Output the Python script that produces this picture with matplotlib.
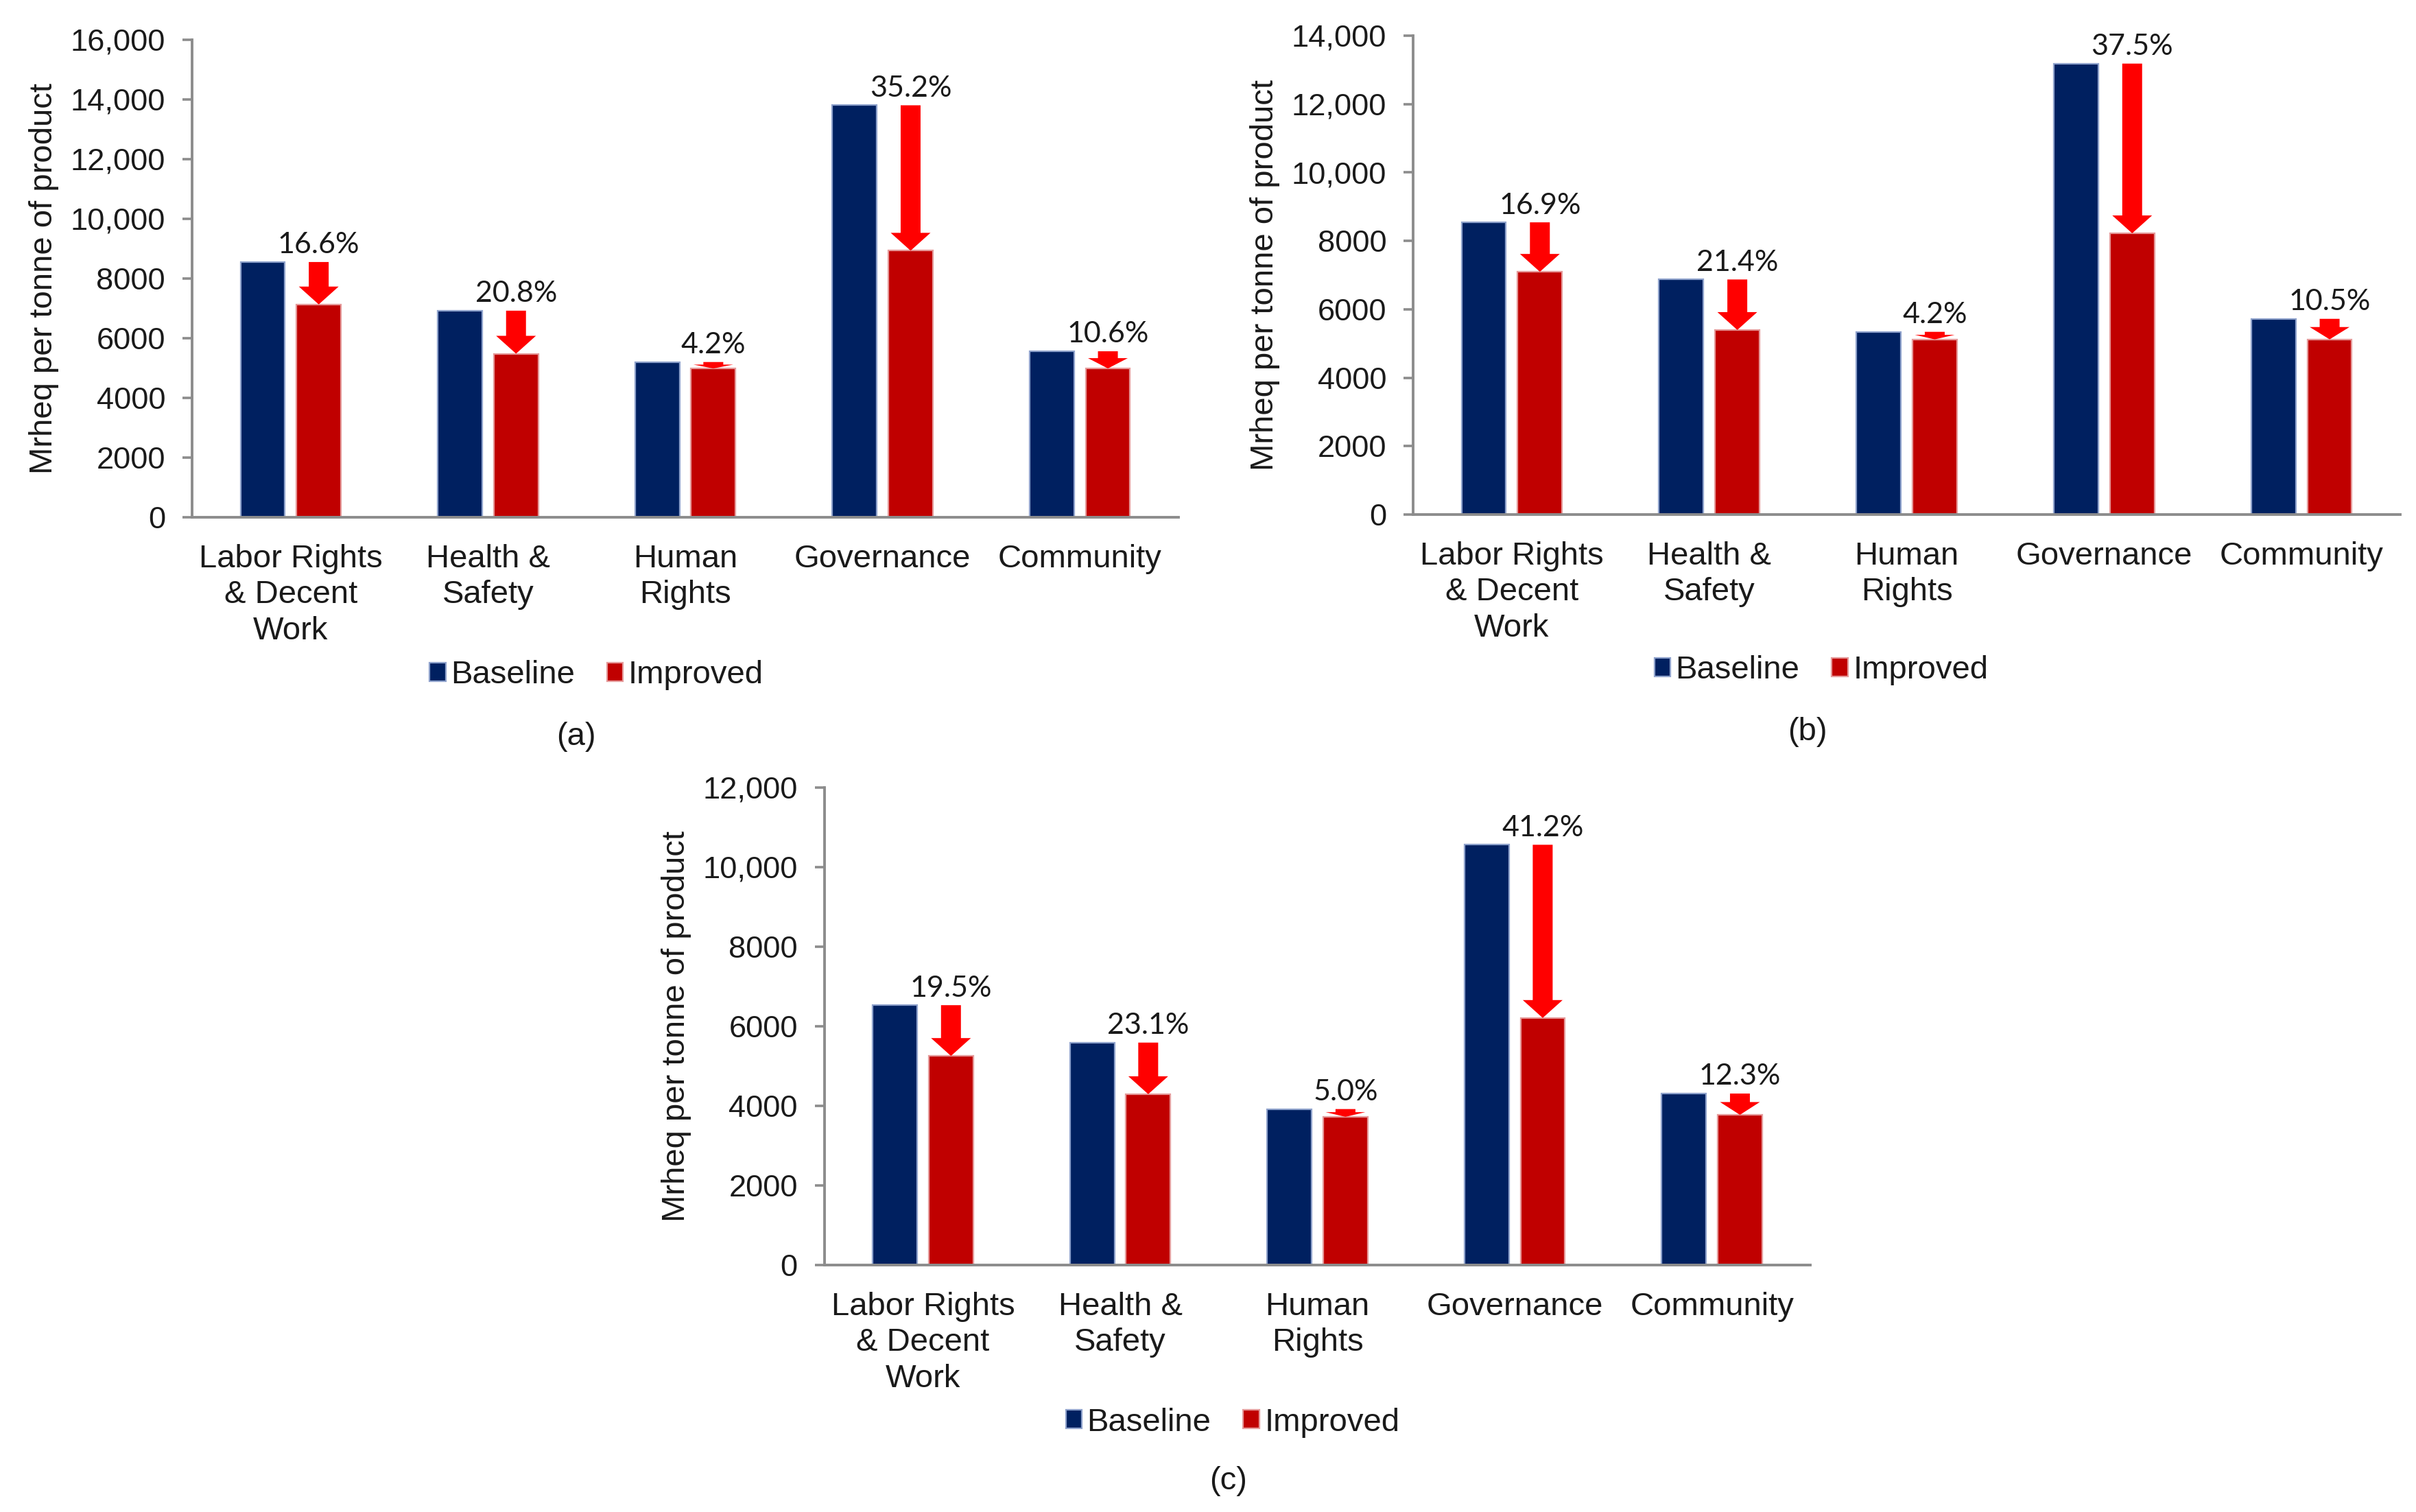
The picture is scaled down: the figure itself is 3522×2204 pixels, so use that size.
import matplotlib
matplotlib.use("Agg")
import matplotlib.pyplot as plt
from matplotlib.patches import FancyArrow, Patch
import numpy as np

# ---------------- data ----------------
categories = ["Labor Rights\n& Decent\nWork", "Health &\nSafety", "Human\nRights",
              "Governance", "Community"]
series_names = ["Baseline", "Improved"]

baseline_a = [8550, 6920, 5200, 13800, 5560]
improved_a = [7130, 5480, 4985, 8930, 4985]
reduction_a = ["16.6%", "20.8%", "4.2%", "35.2%", "10.6%"]
yticks_a = [0, 2000, 4000, 6000, 8000, 10000, 12000, 14000, 16000]
yticklabels_a = ["0", "2000", "4000", "6000", "8000", "10,000", "12,000", "14,000", "16,000"]

baseline_b = [8540, 6870, 5340, 13180, 5720]
improved_b = [7095, 5395, 5120, 8220, 5120]
reduction_b = ["16.9%", "21.4%", "4.2%", "37.5%", "10.5%"]
yticks_b = [0, 2000, 4000, 6000, 8000, 10000, 12000, 14000]
yticklabels_b = ["0", "2000", "4000", "6000", "8000", "10,000", "12,000", "14,000"]

baseline_c = [6530, 5590, 3920, 10560, 4310]
improved_c = [5255, 4295, 3725, 6210, 3775]
reduction_c = ["19.5%", "23.1%", "5.0%", "41.2%", "12.3%"]
yticks_c = [0, 2000, 4000, 6000, 8000, 10000, 12000]
yticklabels_c = ["0", "2000", "4000", "6000", "8000", "10,000", "12,000"]

panel_labels = ["(a)", "(b)", "(c)"]
ylabel_text = "Mrheq per tonne of product"

# ---------------- style ----------------
C_BASE = "#002060"
C_IMPR = "#C00000"
C_ARROW = "#FF0000"
E_BASE = "#8FA2CC"
E_IMPR = "#E59A9A"
SPINE = "#8C8C8C"
TXT = "#1A1A1A"
FONT = ["Liberation Sans", "DejaVu Sans"]
PCT_FONT = ["Lato", "DejaVu Sans"]

plt.rcParams["font.family"] = FONT

W, H, DPI = 17.61, 11.02, 200
fig = plt.figure(figsize=(W, H), dpi=DPI)

panels = [
    dict(rect=[0.0795, 0.6579, 0.4083, 0.3159], base=baseline_a, impr=improved_a,
         red=reduction_a, yt=yticks_a, ytl=yticklabels_a,
         leg=(0.2468, 0.5536), lab=(0.2385, 0.5127)),
    dict(rect=[0.5849, 0.6597, 0.4086, 0.3168], base=baseline_b, impr=improved_b,
         red=reduction_b, yt=yticks_b, ytl=yticklabels_b,
         leg=(0.7538, 0.5566), lab=(0.7480, 0.5158)),
    dict(rect=[0.3412, 0.1633, 0.4082, 0.3159], base=baseline_c, impr=improved_c,
         red=reduction_c, yt=yticks_c, ytl=yticklabels_c,
         leg=(0.5102, 0.0592), lab=(0.5083, 0.0204)),
]

bar_w = 0.225
offset = 0.142
shaft_px = 29.0
headw_px = 58.0
headl_px = 26.0

for p, plabel in zip(panels, panel_labels):
    ax = fig.add_axes(p["rect"])
    x = np.arange(len(categories))
    ax.bar(x - offset, p["base"], width=bar_w, color=C_BASE, edgecolor=E_BASE,
           linewidth=0.8, zorder=2)
    ax.bar(x + offset, p["impr"], width=bar_w, color=C_IMPR, edgecolor=E_IMPR,
           linewidth=0.8, zorder=2)

    ymax = p["yt"][-1]
    ax.set_ylim(0, ymax)
    ax.set_xlim(-0.5, len(categories) - 0.5)

    # pixel -> data conversions
    ax_w_px = p["rect"][2] * W * DPI
    ax_h_px = p["rect"][3] * H * DPI
    xu = (len(categories)) / ax_w_px
    yu = ymax / ax_h_px

    for i, (b, m, r) in enumerate(zip(p["base"], p["impr"], p["red"])):
        xi = x[i] + offset
        length = b - m
        hl = min(headl_px * yu, 0.6 * length)
        arr = FancyArrow(xi, b, 0, -length, width=shaft_px * xu,
                         head_width=headw_px * xu, head_length=hl,
                         length_includes_head=True, color=C_ARROW,
                         linewidth=0, zorder=3)
        ax.add_patch(arr)
        ax.annotate(r, xy=(xi, b), xytext=(0, 2), textcoords="offset points",
                    ha="center", va="bottom", fontsize=15.5, color=TXT,
                    family=PCT_FONT)

    ax.set_yticks(p["yt"])
    ax.set_yticklabels(p["ytl"], fontsize=16.3, color=TXT)
    ax.set_xticks(x)
    ax.set_xticklabels(categories, fontsize=17, color=TXT, linespacing=1.25,
                       multialignment="center")
    ax.tick_params(axis="x", length=0, pad=14)
    ax.tick_params(axis="y", length=5, width=1.3, color=SPINE, direction="out", pad=9)

    for s in ["top", "right"]:
        ax.spines[s].set_visible(False)
    for s in ["left", "bottom"]:
        ax.spines[s].set_color(SPINE)
        ax.spines[s].set_linewidth(1.4)

    ax.set_ylabel(ylabel_text, fontsize=17, color=TXT)
    ax.yaxis.label.set_va("center")
    ax.yaxis.set_label_coords(-0.15, 0.5)

    handles = [Patch(facecolor=C_BASE, edgecolor=E_BASE, linewidth=0.8),
               Patch(facecolor=C_IMPR, edgecolor=E_IMPR, linewidth=0.8)]
    fig.legend(handles, series_names, loc="center", bbox_to_anchor=p["leg"],
               ncol=2, frameon=False, fontsize=17, handlelength=0.5,
               handleheight=0.5, handletextpad=0.15, columnspacing=1.0,
               labelcolor=TXT)
    fig.text(p["lab"][0], p["lab"][1], plabel, ha="center", va="center",
             fontsize=17, color=TXT)

fig.savefig("out.png", dpi=DPI, facecolor="white")
